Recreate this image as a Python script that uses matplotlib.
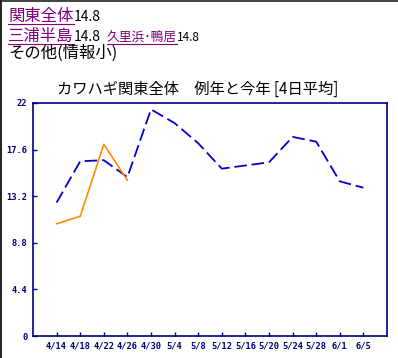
import matplotlib
matplotlib.use('Agg')
import matplotlib.pyplot as plt
from matplotlib.lines import Line2D

plt.rcParams['font.family'] = ['Noto Sans CJK JP', 'DejaVu Sans']
plt.rcParams['lines.scale_dashes'] = False

# x categories (4-day buckets) and the two series
dates = ['4/14', '4/18', '4/22', '4/26', '4/30', '5/4', '5/8',
         '5/12', '5/16', '5/20', '5/24', '5/28', '6/1', '6/5']
avg_years = [12.6, 16.5, 16.6, 15.0, 21.4, 20.1, 18.2,
             15.8, 16.1, 16.4, 18.8, 18.35, 14.6, 14.0]
this_year = [10.6, 11.3, 18.1, 14.7]
y_ticks = [0, 4.4, 8.8, 13.2, 17.6, 22]
y_labels = ['0', '4.4', '8.8', '13.2', '17.6', '22']

title = 'カワハギ関東全体\u3000例年と今年 [4日平均]'

NAVY = '#000080'
PURPLE = '#800080'
W, H = 398, 358

fig = plt.figure(figsize=(W / 100, H / 100), dpi=100)
fig.patch.set_facecolor('white')

# page frame (top and left edges)
fig.add_artist(Line2D([0, 1], [1 - 0.8 / H] * 2, transform=fig.transFigure,
                      color='#404040', lw=1.4))
fig.add_artist(Line2D([0.8 / W] * 2, [0, 1], transform=fig.transFigure,
                      color='#202020', lw=1.4))

renderer = fig.canvas.get_renderer()


def put(text, x_px, base_px, size, color='black', underline=False):
    """Write text at pixel position, return its right edge in px."""
    t = fig.text(x_px / W, 1 - base_px / H, text, fontsize=size,
                 color=color, va='baseline', ha='left')
    bb = t.get_window_extent(renderer)
    if underline:
        uy = 1 - (base_px + 2.5) / H
        fig.add_artist(Line2D([bb.x0 / W, bb.x1 / W], [uy, uy],
                              transform=fig.transFigure, color=color, lw=0.8))
    return bb.x1


# header links
x1 = put('関東全体', 8, 21, 11.8, PURPLE, True)
put('14.8', x1, 21, 10)
x1 = put('三浦半島', 8, 41, 11.8, PURPLE, True)
x1 = put('14.8', x1, 41, 10)
x1 = put('久里浜･鴨居', x1 + 6, 41, 9.2, PURPLE, True)
put('14.8', x1, 41, 8.5)
put('その他(情報小)', 8, 58, 11.8)

fig.text(198 / W, 1 - 94 / H, title, fontsize=11, ha='center', va='baseline')

ax = fig.add_axes([33 / W, 1 - 336 / H, (387 - 33) / W, (336 - 103) / H])
ax.plot(range(len(avg_years)), avg_years, color='#0000cc', lw=1.3,
        dashes=(9, 3.5))
ax.plot(range(len(this_year)), this_year, color='#ff8c00', lw=1.2)

ax.set_xlim(-1, 14)
ax.set_ylim(0, 22)
ax.set_xticks(range(len(dates)))
ax.set_xticklabels(dates)
ax.set_yticks(y_ticks)
ax.set_yticklabels(y_labels)
for lab in ax.get_xticklabels() + ax.get_yticklabels():
    lab.set_family('DejaVu Sans Mono')
    lab.set_fontweight('bold')
    lab.set_fontsize(6.3)
    lab.set_color(NAVY)
ax.tick_params(direction='in', length=3, width=1, color=NAVY, pad=4)
for s in ax.spines.values():
    s.set_color(NAVY)
    s.set_linewidth(1.2)

fig.savefig('out.png', dpi=100)
